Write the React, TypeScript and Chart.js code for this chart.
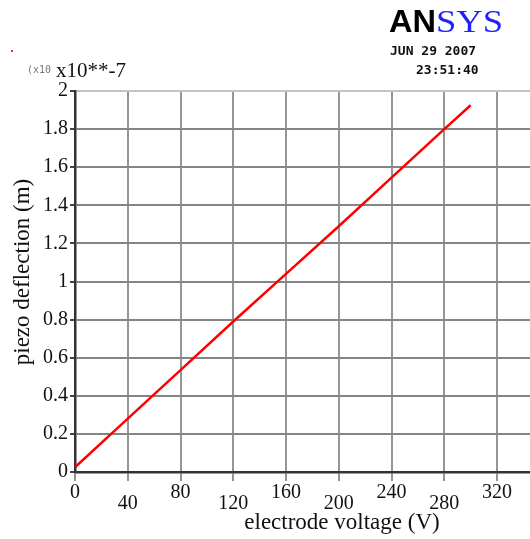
import React, { useEffect, useRef } from 'react';
import { Chart, registerables } from 'chart.js';

Chart.register(...registerables);

// ---- data ----
const voltage = [0, 40, 80, 120, 160, 200, 240, 280, 300];
const deflection = [0.025, 0.28, 0.535, 0.79, 1.04, 1.29, 1.545, 1.8, 1.925];
const xTicks = [0, 40, 80, 120, 160, 200, 240, 280, 320];
const xTickLabels = ['0', '40', '80', '120', '160', '200', '240', '280', '320'];
const yTicks = [0, 0.2, 0.4, 0.6, 0.8, 1, 1.2, 1.4, 1.6, 1.8, 2];
const yTickLabels = ['0', '0.2', '0.4', '0.6', '0.8', '1', '1.2', '1.4', '1.6', '1.8', '2'];
const xTitle = 'electrode voltage (V)';
const yTitle = 'piezo deflection (m)';
const exponentPrefix = '(x10';
const exponentLabel = 'x10**-7';
const logoLeft = 'AN';
const logoRight = 'SYS';
const dateText = 'JUN 29 2007';
const timeText = '23:51:40';

const SERIF = '"Liberation Serif", "Times New Roman", serif';
const MONO = '"DejaVu Sans Mono", "Liberation Mono", monospace';

const annotations = {
  id: 'annotations',
  afterDraw(chart: any) {
    const ctx = chart.ctx as CanvasRenderingContext2D;
    ctx.save();
    ctx.fillStyle = '#111';
    // x title
    ctx.font = `23px ${SERIF}`;
    ctx.textAlign = 'center';
    ctx.textBaseline = 'middle';
    ctx.fillText(xTitle, 342, 523);
    // y title
    ctx.save();
    ctx.translate(23, 272);
    ctx.rotate(-Math.PI / 2);
    ctx.fillText(yTitle, 0, 0);
    ctx.restore();
    // exponent
    ctx.textAlign = 'left';
    ctx.textBaseline = 'alphabetic';
    ctx.fillStyle = '#777';
    ctx.font = `10px ${MONO}`;
    ctx.fillText(exponentPrefix, 27, 73);
    ctx.fillStyle = '#111';
    ctx.font = `21px ${SERIF}`;
    ctx.fillText(exponentLabel, 56, 77);
    // logo
    ctx.font = `bold 31px "Liberation Sans", Arial, sans-serif`;
    const wA = ctx.measureText(logoLeft).width;
    ctx.save();
    ctx.translate(389, 32);
    ctx.scale(47 / wA, 1);
    ctx.fillStyle = '#000';
    ctx.fillText(logoLeft, 0, 0);
    ctx.restore();
    ctx.font = `32px ${SERIF}`;
    const wS = ctx.measureText(logoRight).width;
    ctx.save();
    ctx.translate(436, 32);
    ctx.scale(67 / wS, 1);
    ctx.fillStyle = '#1f1fff';
    ctx.fillText(logoRight, 0, 0);
    ctx.restore();
    // date / time
    ctx.fillStyle = '#111';
    ctx.font = `bold 13px ${MONO}`;
    ctx.fillText(dateText, 390, 55);
    ctx.fillText(timeText, 416, 74);
    // stray red dot
    ctx.fillStyle = '#e33';
    ctx.fillRect(11, 50, 2, 2);
    ctx.restore();
  },
};

export default function App() {
  const ref = useRef<HTMLCanvasElement | null>(null);
  useEffect(() => {
    if (!ref.current) return;
    const chart = new Chart(ref.current, {
      type: 'line',
      data: {
        datasets: [
          {
            data: voltage.map((v, i) => ({ x: v, y: deflection[i] })),
            borderColor: '#ff0000',
            borderWidth: 2.5,
            pointRadius: 0,
            tension: 0,
          },
        ],
      },
      options: {
        animation: false,
        responsive: false,
        devicePixelRatio: 1,
        layout: { padding: { top: 91, left: 0, right: 0, bottom: 0 } },
        plugins: { legend: { display: false }, tooltip: { enabled: false } },
        scales: {
          x: {
            type: 'linear',
            min: 0,
            max: 345,
            afterBuildTicks: (s: any) => {
              s.ticks = xTicks.map((v) => ({ value: v }));
            },
            afterFit: (s: any) => {
              s.height = 67;
            },
            ticks: {
              autoSkip: false,
              maxRotation: 0,
              padding: 6,
              color: '#111',
              font: { family: SERIF, size: 20, lineHeight: '11px' as any },
              callback: (v: any, i: number) => {
                const lbl = xTickLabels[xTicks.indexOf(Number(v))] ?? '';
                return i % 2 === 1 ? ['', lbl] : lbl;
              },
            },
            grid: {
              color: '#959595',
              lineWidth: 2,
              tickLength: 9,
              tickColor: '#959595',
            },
            border: { color: '#333', width: 2.5 },
          },
          y: {
            type: 'linear',
            min: 0,
            max: 2,
            afterBuildTicks: (s: any) => {
              s.ticks = yTicks.map((v) => ({ value: v }));
            },
            afterFit: (s: any) => {
              s.width = 75;
            },
            ticks: {
              padding: 2,
              color: '#111',
              font: { family: SERIF, size: 20 },
              callback: (v: any) => {
                const idx = yTicks.findIndex((t) => Math.abs(t - Number(v)) < 1e-9);
                return idx >= 0 ? yTickLabels[idx] : '';
              },
            },
            grid: {
              color: (c: any) => (c.tick && c.tick.value === 2 ? '#c4c4c4' : '#858585'),
              lineWidth: 2,
              tickLength: 5,
              tickColor: '#444',
            },
            border: { color: '#333', width: 2.5 },
          },
        },
      },
      plugins: [annotations],
    });
    return () => chart.destroy();
  }, []);
  return (
    <div style={{ position: 'fixed', left: 0, top: 0, width: 530, height: 539, background: '#fff' }}>
      <canvas ref={ref} width={530} height={539} style={{ display: 'block', width: 530, height: 539 }} />
    </div>
  );
}
